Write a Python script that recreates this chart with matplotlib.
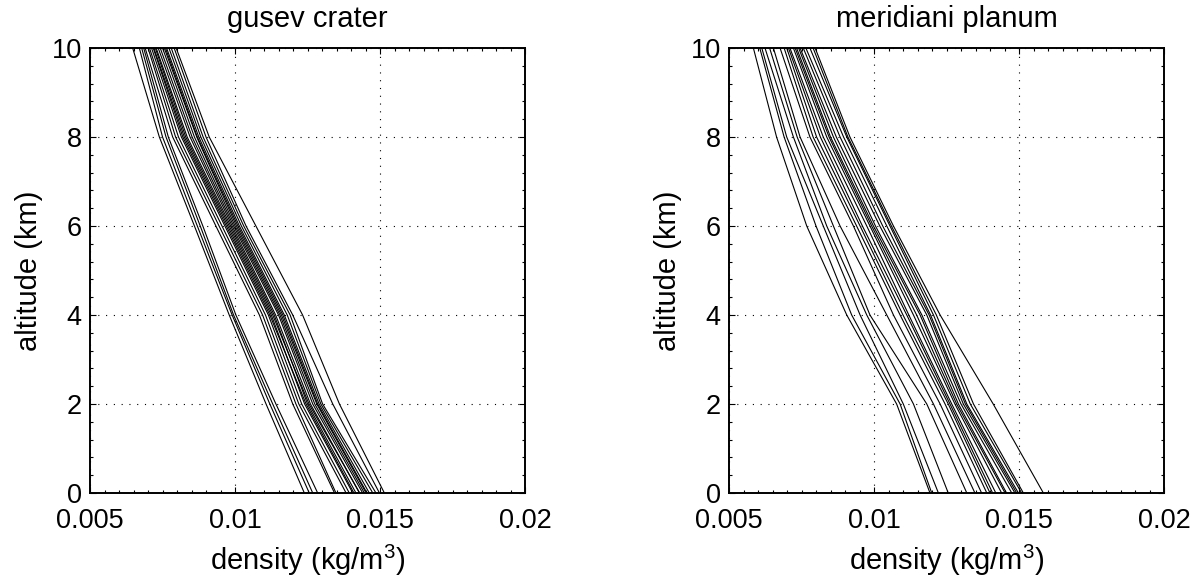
import matplotlib
matplotlib.use("Agg")
import matplotlib.pyplot as plt
from matplotlib.ticker import MultipleLocator

plt.rcParams['font.family'] = ['Liberation Sans', 'DejaVu Sans']
plt.rcParams['mathtext.fontset'] = 'custom'
plt.rcParams['mathtext.rm'] = 'Liberation Sans'
plt.rcParams['mathtext.it'] = 'Liberation Sans'

# altitude levels (km) at which each profile was read
altitude = [0, 2, 4, 6, 8, 10]

# density profiles (kg/m^3), one row per profile, values at the altitudes above
gusev = [
    [0.01239, 0.01107, 0.00980, 0.00860, 0.00739, 0.00647],
    [0.01256, 0.01120, 0.00990, 0.00870, 0.00750, 0.00670],
    [0.01268, 0.01130, 0.00995, 0.00880, 0.00762, 0.00678],
    [0.01285, 0.01141, 0.01003, 0.00889, 0.00770, 0.00685],
    [0.01343, 0.01199, 0.01084, 0.00934, 0.00785, 0.00690],
    [0.01348, 0.01210, 0.01095, 0.00945, 0.00795, 0.00700],
    [0.01383, 0.01220, 0.01105, 0.00955, 0.00805, 0.00705],
    [0.01394, 0.01230, 0.01115, 0.00965, 0.00815, 0.00712],
    [0.01406, 0.01240, 0.01125, 0.00975, 0.00825, 0.00720],
    [0.01410, 0.01245, 0.01120, 0.00970, 0.00820, 0.00718],
    [0.01417, 0.01250, 0.01135, 0.00985, 0.00835, 0.00728],
    [0.01429, 0.01260, 0.01140, 0.00990, 0.00845, 0.00735],
    [0.01430, 0.01255, 0.01130, 0.00980, 0.00830, 0.00725],
    [0.01440, 0.01268, 0.01150, 0.00995, 0.00852, 0.00742],
    [0.01446, 0.01275, 0.01155, 0.01000, 0.00860, 0.00750],
    [0.01452, 0.01282, 0.01160, 0.01005, 0.00868, 0.00756],
    [0.01455, 0.01285, 0.01165, 0.01010, 0.00870, 0.00760],
    [0.01463, 0.01290, 0.01170, 0.01015, 0.00875, 0.00764],
    [0.01475, 0.01296, 0.01180, 0.01022, 0.00882, 0.00772],
    [0.01486, 0.01302, 0.01190, 0.01030, 0.00890, 0.00780],
    [0.01498, 0.01337, 0.01199, 0.01038, 0.00900, 0.00790],
    [0.01515, 0.01360, 0.01233, 0.01072, 0.00911, 0.00797],
]

meridiani = [
    [0.01193, 0.01078, 0.00906, 0.00768, 0.00664, 0.00584],
    [0.01199, 0.01090, 0.00923, 0.00800, 0.00690, 0.00606],
    [0.01222, 0.01101, 0.00952, 0.00825, 0.00699, 0.00613],
    [0.01256, 0.01136, 0.00975, 0.00837, 0.00722, 0.00624],
    [0.01320, 0.01182, 0.00986, 0.00860, 0.00735, 0.00640],
    [0.01348, 0.01205, 0.01044, 0.00883, 0.00745, 0.00653],
    [0.01371, 0.01228, 0.01067, 0.00929, 0.00779, 0.00676],
    [0.01389, 0.01245, 0.01090, 0.00940, 0.00790, 0.00690],
    [0.01400, 0.01256, 0.01100, 0.00952, 0.00802, 0.00699],
    [0.01409, 0.01262, 0.01113, 0.00960, 0.00815, 0.00705],
    [0.01420, 0.01268, 0.01120, 0.00975, 0.00825, 0.00710],
    [0.01440, 0.01279, 0.01136, 0.00986, 0.00837, 0.00722],
    [0.01452, 0.01285, 0.01147, 0.00992, 0.00845, 0.00728],
    [0.01457, 0.01291, 0.01159, 0.00998, 0.00850, 0.00733],
    [0.01475, 0.01300, 0.01165, 0.01005, 0.00860, 0.00740],
    [0.01486, 0.01308, 0.01182, 0.01020, 0.00870, 0.00745],
    [0.01492, 0.01315, 0.01190, 0.01030, 0.00883, 0.00756],
    [0.01498, 0.01320, 0.01195, 0.01044, 0.00895, 0.00765],
    [0.01509, 0.01332, 0.01205, 0.01055, 0.00906, 0.00779],
    [0.01515, 0.01343, 0.01215, 0.01060, 0.00910, 0.00790],
    [0.01584, 0.01411, 0.01228, 0.01067, 0.00917, 0.00797],
]

titles = ["gusev crater", "meridiani planum"]
xticks = [0.005, 0.01, 0.015, 0.02]
xticklabels = ["0.005", "0.01", "0.015", "0.02"]
yticks = [0, 2, 4, 6, 8, 10]

tick_fs = 19.5
label_fs = 21

fig = plt.figure(figsize=(12.02, 5.79), dpi=100)
ax1 = fig.add_axes([0.0749, 0.1485, 0.3619, 0.7686])
ax2 = fig.add_axes([0.6065, 0.1485, 0.3619, 0.7686])

for ax, profiles, title in zip([ax1, ax2], [gusev, meridiani], titles):
    for prof in profiles:
        ax.plot(prof, altitude, color='black', lw=0.8)
    ax.set_xlim(0.005, 0.02)
    ax.set_ylim(0, 10)
    ax.set_xticks(xticks)
    ax.set_xticklabels(xticklabels)
    ax.set_yticks(yticks)
    ax.xaxis.set_minor_locator(MultipleLocator(0.0005))
    ax.yaxis.set_minor_locator(MultipleLocator(0.4))
    ax.tick_params(which='both', direction='in', top=True, right=True,
                   labelsize=tick_fs, width=0.8)
    ax.tick_params(which='major', length=4.5)
    ax.tick_params(which='minor', length=2.2)
    ax.tick_params(axis='x', which='major', pad=11)
    ax.tick_params(axis='y', which='major', pad=6)
    ax.grid(True, which='major', color='black', linestyle=(0, (1, 6)), lw=0.8)
    for s in ax.spines.values():
        s.set_linewidth(1.4)
    ax.set_title(title, fontsize=label_fs, pad=15)
    ax.set_xlabel("density (kg/m$^3$)", fontsize=label_fs, labelpad=6)
    ax.set_ylabel("altitude (km)", fontsize=label_fs, labelpad=6)

fig.savefig("out.png", dpi=100)
